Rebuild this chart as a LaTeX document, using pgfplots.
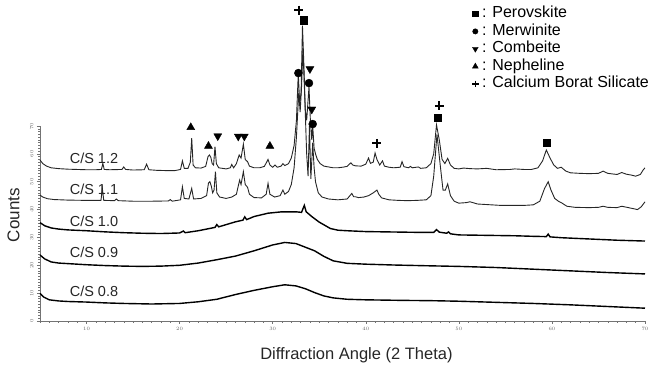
\documentclass[border=0pt]{standalone}
\usepackage{pgfplots}
\pgfplotsset{compat=1.18}
\usepackage{fontspec}
\setmainfont{Liberation Sans}
\begin{document}
\begin{tikzpicture}
\begin{axis}[
  scale only axis, width=605pt, height=195pt,
  xmin=5, xmax=70, ymin=0, ymax=70,
  axis x line*=bottom, axis y line*=left,
  clip=false,
  xtick={10,20,...,70}, minor xtick={5,6,...,70},
  ytick={0,10,...,70}, minor ytick={0,1,...,70},
  tick align=outside, major tick length=3pt, minor tick length=1.6pt,
  axis line style={black!55, line width=0.6pt}, tick style={black!55, line width=0.5pt},
  ticklabel style={font=\fontsize{5.5}{6}\selectfont, text=black!60},
  yticklabel style={rotate=90, anchor=south},
  legend style={at={(0.709,1.631)}, anchor=north west, draw=none, fill=none,
    font=\fontsize{16}{17.5}\selectfont, row sep=0pt,
    nodes={inner sep=0.5pt, text height=12.3pt, text depth=4.2pt},
    cells={anchor=west}},
  legend image code/.code={\path (-3pt,0pt) (6pt,0pt); \draw[#1] plot coordinates {(0pt,0pt)};},
]
\coordinate (sw) at (axis cs:5,0);
% C/S 1.2
\addplot[forget plot, black!85, line width=0.9pt] coordinates {
(5.0,57.8) (5.3,56.5) (5.7,55.6) (6.2,55.0) (7,54.7) (8,54.5) (9,54.4) (10,54.3) (11,54.3)
(11.6,54.4) (11.75,56.6) (11.9,54.4) (12.5,54.3) (13.8,54.4) (14.0,55.3) (14.2,54.4) (15,54.2)
(16.2,54.3) (16.45,56.3) (16.7,54.3) (17.5,54.1) (18.5,54.0) (19.5,54.0) (20.1,54.4) (20.3,57.5)
(20.5,54.8) (20.9,54.8) (21.15,57) (21.3,65.6) (21.45,56) (21.7,55) (22.3,54.9) (22.8,55.5)
(23.05,59) (23.2,59.6) (23.35,58.8) (23.5,56.5) (23.65,56) (23.8,62.6) (23.95,56.5) (24.2,55)
(25,54.6) (25.45,55) (25.6,56.2) (25.8,55) (26.1,56.5) (26.4,59.6) (26.6,58.5) (26.85,63.5)
(27.05,58) (27.3,57.2) (27.5,55.6) (28,55) (28.6,55) (29.1,55.5) (29.35,57) (29.5,58) (29.7,56)
(30,55.2) (30.25,56) (30.5,55.2) (30.9,55.6) (31.1,56.5) (31.3,55.8) (31.7,56.5) (32.0,58.5)
(32.3,63) (32.55,72) (32.75,89) (32.9,78) (33.05,82) (33.2,106) (33.35,92) (33.5,76) (33.65,72)
(33.9,84) (34.05,72) (34.2,65) (34.3,70) (34.45,62) (34.6,60) (34.8,58) (35.1,56.5) (35.5,55.6)
(36,55.3) (36.5,55) (37,55) (37.5,55.2) (38,55.5) (38.4,56.8) (38.6,56) (38.9,55.7) (39.5,55.6)
(40.0,56.3) (40.3,58.5) (40.5,56.6) (40.8,57) (41.0,60.3) (41.2,58) (41.5,56) (41.8,57.5)
(42.0,55.6) (42.5,55.2) (43.0,55) (43.7,55.2) (43.9,57.2) (44.1,55.4) (44.6,55) (44.8,55.5) (45.0,55)
(45.65,55.3) (45.9,54.8) (46.5,55) (47.0,56.5) (47.3,60) (47.6,70.4) (47.9,65) (48.2,58)
(48.5,56.5) (48.8,58.4) (49.1,56) (49.5,54.8) (50,54.6) (50.5,54.9) (51.2,54.7) (52,54.6) (53,54.8)
(54,54.3) (55.5,54.4) (56,54.6) (57,54.4) (57.8,54.4) (58.5,55) (59.0,57.5) (59.4,61.4)
(59.8,58.5) (60.2,56) (60.6,54.8) (61.0,55.2) (61.5,53.8) (62,53.2) (63,53.0) (64,52.9)
(65,53) (65.5,53.8) (66,53) (67,52.6) (67.5,53.3) (68,52.7) (68.5,52.4) (69,52.0) (69.5,52.6)
(69.8,54.2) (70,55)};
% C/S 1.1
\addplot[forget plot, black!85, line width=0.9pt] coordinates {
(5.0,45.2) (5.3,44.5) (5.8,43.9) (6.5,43.6) (8,43.4) (10,43.3) (11.55,43.3) (11.7,47.6)
(11.85,43.3) (13,43.2) (13.2,43.8) (13.4,43.2) (15,43.0) (17,43.0) (18.8,43.1) (19,43.6)
(19.2,43.0) (20.1,43.5) (20.3,48.2) (20.5,44) (21,43.8) (21.3,47.6) (21.5,43.8) (22.3,44)
(22.9,45) (23.1,49.5) (23.25,50) (23.4,48.5) (23.55,46) (23.7,47) (23.85,53.6) (24.0,46)
(24.3,44.5) (25,44) (25.6,44.5) (26.1,45.5) (26.45,50.6) (26.6,49) (26.85,53.6) (27.05,49)
(27.3,48) (27.5,45.5) (28,44.3) (28.8,44.2) (29.3,45.5) (29.5,49.4) (29.7,45.5) (30.2,44.5)
(30.8,45) (31.1,47) (31.3,45.5) (31.7,46.5) (32.0,49) (32.3,55) (32.55,66) (32.8,82)
(32.95,75) (33.1,84) (33.25,98) (33.45,80) (33.65,60) (33.8,52) (33.95,70) (34.1,51)
(34.3,64) (34.45,55) (34.6,50) (34.9,46) (35.3,44.5) (36,43.8) (37,43.5) (38,43.8) (38.3,45)
(38.5,45.8) (38.7,44.6) (38.9,44.6) (39.2,44.3) (39.8,44.5) (40.3,45) (40.8,46) (41.2,47)
(41.4,45.5) (41.7,44.2) (42.5,43.5) (43.5,43.3) (44.5,43.2) (45.5,43.3) (46.5,43.5) (47.0,45)
(47.3,52) (47.65,67) (48.0,56) (48.3,47) (48.55,47) (48.8,49.2) (49.1,45) (49.5,43) (50,42.3)
(50.8,42.5) (51.2,42.8) (52,42) (53,41.8) (54.5,41.5) (56,41.5) (57,41.5) (58,41.7) (58.7,43)
(59.2,47.5) (59.6,50) (59.9,47) (60.3,44) (60.7,43) (61.1,42.3) (61.6,41.2) (62.5,40.8)
(64,40.7) (65,40.8) (65.5,41.2) (66,40.8) (67,40.7) (67.5,41.2) (68.5,40.5) (69.2,40.0)
(69.6,41) (70,42.8)};
% C/S 1.0
\addplot[forget plot, black, line width=1.4pt] coordinates {
(5,35.3) (5.5,34.2) (6.2,33.4) (7,33.0) (8,32.7) (10,32.4) (12,32.0) (14,31.7) (16,31.5)
(18,31.4) (20,31.6) (20.4,32.3) (20.6,31.7) (22,32.4) (23.8,33.6) (24,34.6) (24.2,33.8)
(25,34.6) (26,35.6) (26.8,36.2) (27,37.4) (27.2,36.4) (28,37.5) (29.5,38.7) (31,39.2)
(32.5,39.2) (33.1,39) (33.4,41.5) (33.6,39.2) (34.2,37.5) (35,35.5) (36.2,33.2) (37,32.6)
(38,32.4) (40,32.1) (42,32) (44,31.9) (46,31.8) (47.3,31.8) (47.6,32.8) (47.9,31.9)
(48.7,31.5) (48.9,32.0) (49.1,31.3) (50,30.9) (52,30.8) (54,30.7) (56,30.6) (58,30.4)
(59.4,30.3) (59.6,31.2) (59.8,30.2) (61,29.9) (63,29.6) (65,29.3) (67,29.0) (70,28.7)};
% C/S 0.9
\addplot[forget plot, black, line width=1.4pt] coordinates {
(5,23.7) (5.5,22.3) (6.2,21.2) (7,20.8) (8,20.6) (10,20.2) (12,19.9) (14,19.7) (16,19.6)
(18,19.7) (20,20.0) (22,20.8) (24,22.0) (26,23.3) (28,25.2) (30,27.3) (31.3,28.2) (32.5,27.8)
(33.5,26.5) (34.5,25.2) (35.5,23.2) (36.5,21.6) (38,20.7) (40,20.4) (43,20.1) (47,19.8)
(50,19.6) (54,19.2) (58,18.6) (62,18.0) (66,17.4) (70,16.9)};
% C/S 0.8
\addplot[forget plot, black, line width=1.4pt] coordinates {
(5,9.9) (5.4,8.6) (6,7.6) (7,7.2) (8,7.0) (10,6.8) (12,6.5) (14,6.3) (17,6.1) (20,6.3)
(22,6.9) (24,7.8) (26,9.5) (28,11.0) (30,12.3) (31.3,13) (32.5,12.6) (33.5,11.6) (34.5,10.2)
(35.5,9.0) (36.5,8.3) (38,7.8) (40,7.6) (44,7.4) (47,7.3) (50,7.1) (54,6.7) (58,6.3)
(62,5.8) (66,5.2) (70,4.6)};
% phase markers
\addplot[only marks, mark=square*, mark size=3.6pt, black, legend image post style={mark size=2.7pt}]
  coordinates {(33.35,108) (47.7,73.1) (59.4,64)};
\addlegendentry{: Perovskite}
\addplot[only marks, mark=*, mark size=4pt, black, legend image post style={mark size=2.7pt}]
  coordinates {(32.76,89) (33.9,85.4) (34.3,70.7)};
\addlegendentry{: Merwinite}
\addplot[only marks, mark=triangle*, mark options={rotate=180}, mark size=4.6pt, black, legend image post style={mark size=3.3pt}]
  coordinates {(24.1,66.4) (26.3,66.3) (26.95,66.3) (34.0,90.5) (34.2,76)};
\addlegendentry{: Combeite}
\addplot[only marks, mark=triangle*, mark size=4.6pt, black, legend image post style={mark size=3.3pt}]
  coordinates {(21.2,69.5) (23.1,62.8) (29.7,62.8)};
\addlegendentry{: Nepheline}
\addplot[only marks, mark=+, mark size=4.5pt, mark options={line width=1.6pt}, black, legend image post style={mark size=3.2pt}]
  coordinates {(32.8,111.6) (41.2,63.8) (47.9,77.2)};
\addlegendentry{: Calcium Borat Silicate}
% labels
\node[font=\fontsize{14.5}{16}\selectfont, text=black!85] at (axis cs:10.8,58.5) {C/S 1.2};
\node[font=\fontsize{14.5}{16}\selectfont, text=black!85] at (axis cs:10.8,47.2) {C/S 1.1};
\node[font=\fontsize{14.5}{16}\selectfont, text=black!85] at (axis cs:10.8,35.9) {C/S 1.0};
\node[font=\fontsize{14.5}{16}\selectfont, text=black!85] at (axis cs:10.8,24.6) {C/S 0.9};
\node[font=\fontsize{14.5}{16}\selectfont, text=black!85] at (axis cs:10.8,10.8) {C/S 0.8};
\node[font=\fontsize{17}{19}\selectfont, text=black!85, rotate=90] at (axis cs:2.15,38) {Counts};
\node[font=\fontsize{16.5}{19}\selectfont, text=black!85] at (axis cs:39,-12.2) {Diffraction Angle (2 Theta)};
\end{axis}
\pgfresetboundingbox
\path ([shift={(-40pt,-46pt)}]sw) rectangle ([shift={(617pt,321pt)}]sw);
\end{tikzpicture}
\end{document}
